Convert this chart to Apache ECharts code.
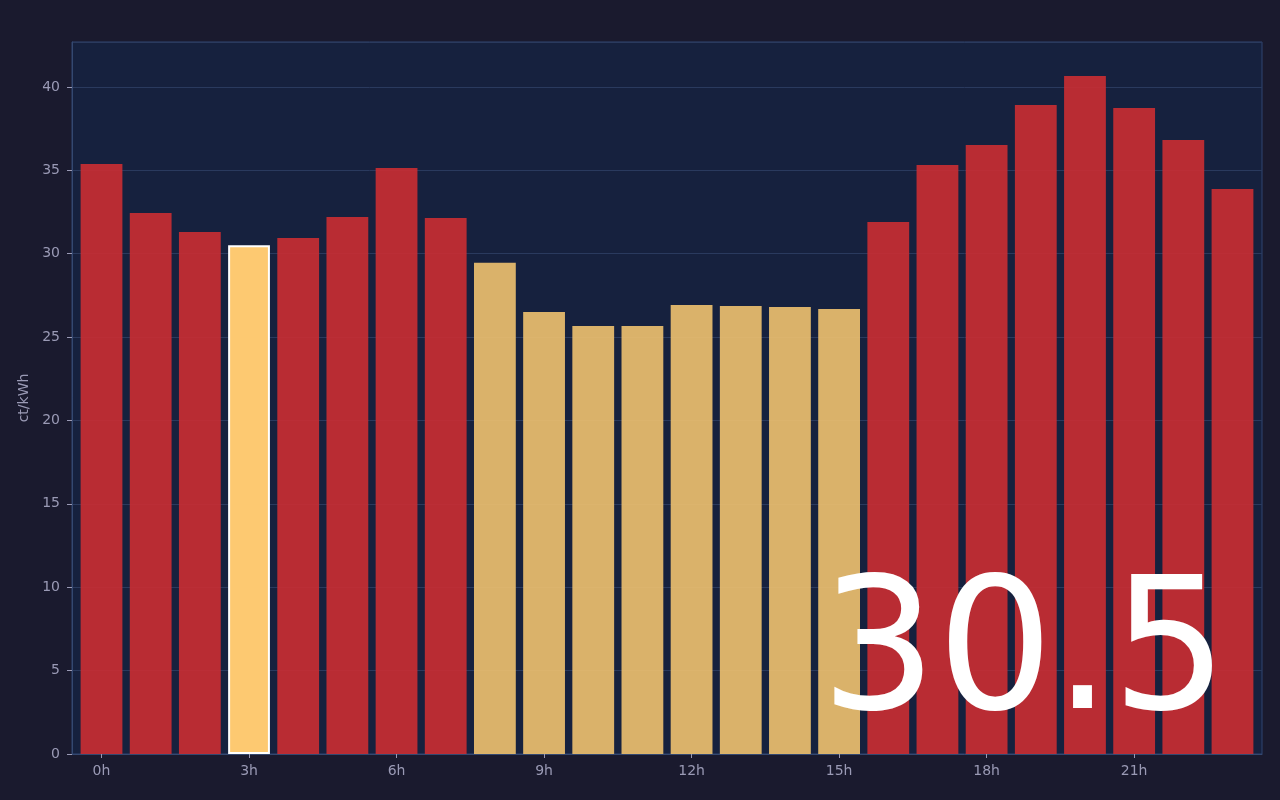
<!DOCTYPE html>
<html>
<head>
<meta charset="utf-8">
<script src="https://cdn.jsdelivr.net/npm/echarts@6/dist/echarts.min.js"></script>
<style>
html,body{margin:0;padding:0;background:#1a1a2e;}
#chart{width:1280px;height:800px;}
</style>
</head>
<body>
<div id="chart"></div>
<script>
const hourIndex = [0,1,2,3,4,5,6,7,8,9,10,11,12,13,14,15,16,17,18,19,20,21,22,23];
const prices = [35.38, 32.44, 31.30, 30.5, 30.94, 32.20, 35.14, 32.14, 29.45, 26.51, 25.67, 25.67, 26.93, 26.87, 26.81, 26.69, 31.90, 35.32, 36.52, 38.92, 40.66, 38.74, 36.82, 33.88];
const tickHours = [0, 3, 6, 9, 12, 15, 18, 21];
const cheapHours = [8, 9, 10, 11, 12, 13, 14, 15];
const currentHour = 3;
const currentLabel = '30.5';
const yAxisName = 'ct/kWh';

const chart = echarts.init(document.getElementById('chart'));

const barData = prices.map((v, i) => {
  if (i === currentHour) {
    return { value: [hourIndex[i], v], itemStyle: { color: '#fdc971', opacity: 1, borderColor: '#ffffff', borderWidth: 2 } };
  }
  const cheap = cheapHours.indexOf(i) >= 0;
  return { value: [hourIndex[i], v], itemStyle: { color: cheap ? '#efc26f' : '#cb2e32', opacity: 0.9 } };
});

const labelColor = '#9a9ab5';

chart.setOption({
  backgroundColor: '#1a1a2e',
  animation: false,
  grid: {
    left: 72, right: 18, top: 42, bottom: 46,
    show: true, backgroundColor: '#16213e', borderColor: '#2f4470', borderWidth: 1
  },
  xAxis: {
    type: 'value',
    min: -0.6,
    max: 23.6,
    axisLine: { show: true, onZero: false, lineStyle: { color: '#344870' } },
    axisTick: { show: true, customValues: tickHours, length: 4, lineStyle: { color: labelColor } },
    axisLabel: { customValues: tickHours, color: labelColor, fontSize: 14, margin: 10,
      fontFamily: 'DejaVu Sans', formatter: v => v + 'h' },
    splitLine: { show: false }
  },
  yAxis: {
    type: 'value',
    min: 0,
    max: v => v.max * 1.05,
    interval: 5,
    name: yAxisName,
    nameLocation: 'middle',
    nameGap: 39,
    nameTextStyle: { color: labelColor, fontSize: 14, fontFamily: 'DejaVu Sans' },
    axisLine: { show: true, onZero: false, lineStyle: { color: '#344870' } },
    axisTick: { show: true, length: 5, lineStyle: { color: labelColor } },
    axisLabel: { color: labelColor, fontSize: 14, margin: 12, fontFamily: 'DejaVu Sans',
      showMaxLabel: false },
    splitLine: { lineStyle: { color: '#2a3a5e' } }
  },
  series: [{
    type: 'bar',
    data: barData,
    barWidth: '85%'
  }],
  graphic: [{
    type: 'text',
    z: 100,
    x: 1228,
    y: 660,
    style: {
      text: currentLabel,
      fill: '#ffffff',
      fontSize: 183,
      fontFamily: 'DejaVu Sans',
      textAlign: 'right',
      textVerticalAlign: 'middle'
    }
  }]
});
</script>
</body>
</html>
